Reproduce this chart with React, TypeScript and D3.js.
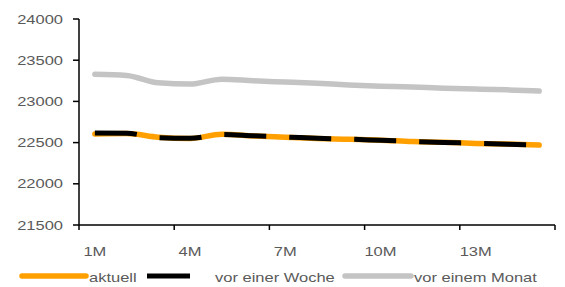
import * as d3 from "d3";
import { useEffect, useRef } from "react";

// Laufzeiten 1M..15M
const categories = ["1M","2M","3M","4M","5M","6M","7M","8M","9M","10M","11M","12M","13M","14M","15M"];
const aktuell = [22605,22610,22565,22550,22600,22580,22565,22550,22540,22530,22512,22503,22490,22482,22470];
const vorWoche = [22615,22612,22560,22552,22598,22582,22568,22553,22542,22528,22514,22502,22492,22480,22468];
const vorMonat = [23330,23315,23225,23210,23270,23250,23235,23220,23200,23185,23175,23160,23150,23140,23125];
const yTicks = [21500,22000,22500,23000,23500,24000];
const xLabels = ["1M","4M","7M","10M","13M"];

const W = 565, H = 287;
const FONT = "'Liberation Sans', Arial, sans-serif";
const SX = 1.27; // Schrift wirkt horizontal gestreckt

const Chart = () => {
    const svgRef = useRef<SVGSVGElement>(null);

    useEffect(() => {
        const svg = d3.select(svgRef.current);
        svg.selectAll("*").remove();

        const x = d3.scaleBand().domain(categories).range([79, 555]).padding(0);
        const y = d3.scaleLinear().domain([21500, 24000]).range([225, 19]);
        const cx = (c) => (x(c) as number) + x.bandwidth() / 2;

        const label = (tx, ty, text, anchor) => {
            svg.append("g")
                .attr("transform", `translate(${tx},${ty}) scale(${SX},1)`)
                .append("text")
                .attr("text-anchor", anchor)
                .attr("font-family", FONT)
                .attr("font-size", 13)
                .attr("fill", "#5a5a5a")
                .text(text);
        };

        // Y-Achse
        svg.append("line").attr("x1", 79).attr("x2", 79).attr("y1", 19).attr("y2", 225)
            .attr("stroke", "#000").attr("stroke-width", 1.5);
        yTicks.forEach((t) => {
            svg.append("line").attr("x1", 73).attr("x2", 79).attr("y1", y(t)).attr("y2", y(t))
                .attr("stroke", "#000").attr("stroke-width", 1.5);
            label(63, y(t) + 4.5, String(t), "end");
        });

        // X-Achse
        svg.append("line").attr("x1", 79).attr("x2", 555).attr("y1", 225).attr("y2", 225)
            .attr("stroke", "#000").attr("stroke-width", 1.5);
        const tickX = categories.filter((_, i) => i % 3 === 0).map((c) => x(c) as number).concat([555]);
        tickX.forEach((tx) => {
            svg.append("line").attr("x1", tx).attr("x2", tx).attr("y1", 225).attr("y2", 230)
                .attr("stroke", "#000").attr("stroke-width", 1.5);
        });
        xLabels.forEach((c) => label(cx(c), 256, c, "middle"));

        const line = d3.line<number>()
            .x((_, i) => cx(categories[i]))
            .y((d) => y(d))
            .curve(d3.curveMonotoneX);

        svg.append("path").attr("d", line(vorMonat)).attr("fill", "none")
            .attr("stroke", "#c4c4c4").attr("stroke-width", 5.5)
            .attr("stroke-linecap", "round").attr("stroke-linejoin", "round");
        svg.append("path").attr("d", line(aktuell)).attr("fill", "none")
            .attr("stroke", "#ffa000").attr("stroke-width", 5.5)
            .attr("stroke-linecap", "round").attr("stroke-linejoin", "round");
        svg.append("path").attr("d", line(vorWoche)).attr("fill", "none")
            .attr("stroke", "#000").attr("stroke-width", 5)
            .attr("stroke-dasharray", "42,23").attr("stroke-linejoin", "round");

        // Legende
        const ly = 276;
        svg.append("line").attr("x1", 22).attr("x2", 86).attr("y1", ly).attr("y2", ly)
            .attr("stroke", "#ffa000").attr("stroke-width", 5.5).attr("stroke-linecap", "round");
        label(89, ly + 6, "aktuell", "start");
        svg.append("line").attr("x1", 147).attr("x2", 190).attr("y1", ly).attr("y2", ly)
            .attr("stroke", "#000").attr("stroke-width", 5);
        label(215, ly + 6, "vor einer Woche", "start");
        svg.append("line").attr("x1", 345).attr("x2", 411).attr("y1", ly).attr("y2", ly)
            .attr("stroke", "#c4c4c4").attr("stroke-width", 5.5).attr("stroke-linecap", "round");
        label(414, ly + 6, "vor einem Monat", "start");
    }, []);

    return <svg ref={svgRef} width={W} height={H} style={{ display: "block" }}></svg>;
};

export default function App() {
    return (
        <div style={{ position: "fixed", left: 0, top: 0, background: "#fff" }}>
            <Chart />
        </div>
    );
}
